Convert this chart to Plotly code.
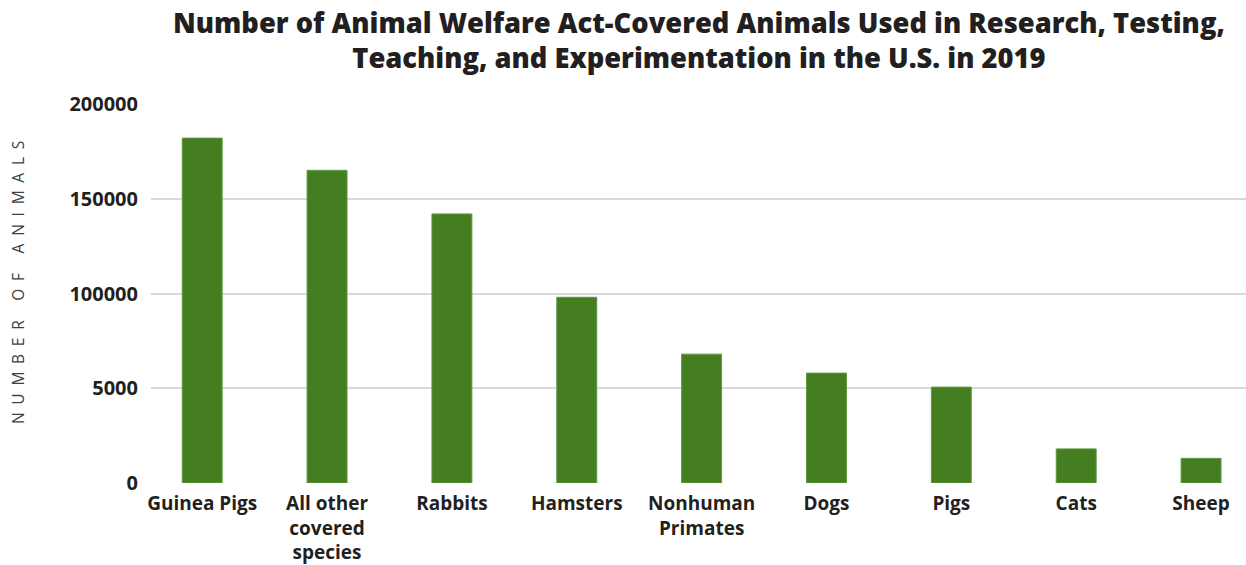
import plotly.graph_objects as go

categories = ["Guinea Pigs", "All other<br>covered<br>species", "Rabbits", "Hamsters",
              "Nonhuman<br>Primates", "Dogs", "Pigs", "Cats", "Sheep"]
values = [182000, 165000, 142000, 98000, 68000, 58000, 50600, 18000, 13000]
tick_vals = [0, 50000, 100000, 150000, 200000]
tick_text = ["0", "5000", "100000", "150000", "200000"]

title_text = ("Number of Animal Welfare Act-Covered Animals Used in Research, Testing,<br>"
              "Teaching, and Experimentation in the U.S. in 2019")
y_title = "\u2002".join("NUMBER OF ANIMALS")

FONT = "Open Sans"
DARK = "#231f20"

fig = go.Figure(go.Bar(
    x=list(range(len(categories))),
    y=values,
    marker=dict(color="#457d21", line=dict(color="#5f9a45", width=1)),
    width=0.32,
))

fig.update_layout(
    width=1246, height=565,
    paper_bgcolor="white", plot_bgcolor="white",
    margin=dict(l=151, r=0, t=104, b=82),
    showlegend=False,
    font=dict(family=FONT, color=DARK),
    annotations=[
        dict(text=title_text, xref="paper", yref="paper", x=0.5, y=1.27,
             xanchor="center", yanchor="top", showarrow=False, align="center",
             font=dict(family=FONT, size=27.3, color=DARK, weight=800)),
        dict(text=y_title, xref="paper", yref="paper", x=-0.1215, y=0.53,
             xanchor="center", yanchor="middle", showarrow=False, textangle=-90,
             font=dict(family=FONT, size=15.5, color="#404040")),
    ],
)

fig.update_xaxes(
    tickmode="array", tickvals=list(range(len(categories))), ticktext=categories,
    range=[-0.41, 8.36], showgrid=False, zeroline=False, showline=False, ticks="",
    ticklabelstandoff=7,
    tickfont=dict(family=FONT, size=19, color=DARK, weight="bold"),
)
fig.update_yaxes(
    tickmode="array", tickvals=tick_vals, ticktext=tick_text, range=[0, 200000],
    showgrid=True, gridcolor="#d9d9d9", gridwidth=2, zeroline=False, showline=False,
    ticks="", ticklen=0, ticklabelstandoff=12,
    tickfont=dict(family=FONT, size=20, color=DARK, weight="bold"),
)

fig.write_html("out.html")
